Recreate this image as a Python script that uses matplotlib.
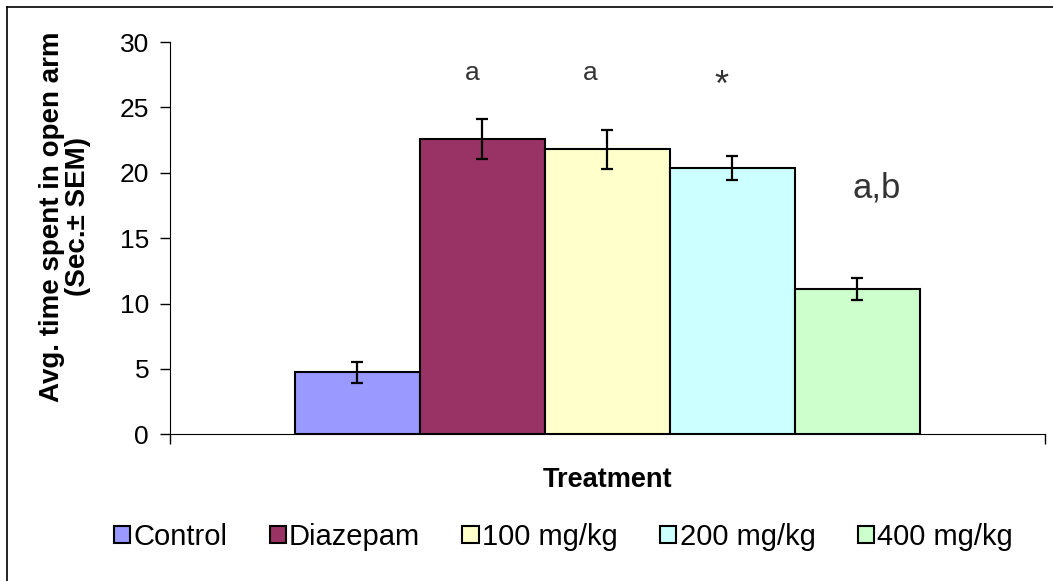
import numpy as np
import matplotlib.pyplot as plt
from matplotlib.patches import Patch
from matplotlib.lines import Line2D

plt.rcParams['font.family'] = ['Liberation Sans', 'DejaVu Sans']

# Daten
groups = ['Control', 'Diazepam', '100 mg/kg', '200 mg/kg', '400 mg/kg']
means = [4.75, 22.6, 21.8, 20.35, 11.1]
sems = [0.8, 1.55, 1.5, 0.92, 0.82]
colors = ['#9999FF', '#993366', '#FFFFCC', '#CCFFFF', '#CCFFCC']
# signifikansmarkeringar (text, x, y)
sig_labels = ['a', 'a', '*', 'a,b']
sig_x = [0.346, 0.480, 0.630, 0.808]
sig_y = [27.6, 27.6, 26.6, 18.8]
sig_size = [19, 19, 26, 25]

fig = plt.figure(figsize=(10.53, 5.81), dpi=100)
ax = fig.add_axes([0.1614, 0.2525, 0.831, 0.6752])

n = len(groups)
w = 1 / (n + 2)
x = (np.arange(n) + 1.5) * w
ax.bar(x, means, width=w, color=colors, edgecolor='black', linewidth=1.5, zorder=2)
ax.errorbar(x, means, yerr=sems, fmt='none', ecolor='black', elinewidth=1.6,
            capsize=4, capthick=1.6, zorder=3)

for t, xx, yy, s in zip(sig_labels, sig_x, sig_y, sig_size):
    ax.text(xx, yy, t, fontsize=s, color='#333333', ha='center', va='center')

ax.set_xlim(0, 1)
ax.set_ylim(0, 30)
ax.set_yticks(np.arange(0, 31, 5))
ax.set_xticks([0, 1])
ax.set_xticklabels([])
ax.tick_params(axis='y', direction='out', length=7, width=1, labelsize=19, pad=8)
ax.tick_params(axis='x', direction='out', length=7, width=1)
ax.spines['top'].set_visible(False)
ax.spines['right'].set_visible(False)

ax.set_xlabel('Treatment', fontsize=19.5, fontweight='bold', labelpad=13)
ax.set_ylabel('Avg. time spent in open arm\n(Sec.± SEM)', fontsize=20,
              fontweight='bold', linespacing=1.0)
ax.yaxis.set_label_coords(-0.09, 0.555)

handles = [Patch(facecolor=c, edgecolor='black', linewidth=1.5) for c in colors]
fig.legend(handles, groups, loc='center', bbox_to_anchor=(0.535, 0.076), ncol=n,
           frameon=False, fontsize=21, handlelength=0.55, handleheight=0.55,
           handletextpad=0.12, columnspacing=1.45)

# ram
fig.add_artist(Line2D([0.0066, 0.0066], [0, 0.988], transform=fig.transFigure, color='black', lw=1.2))
fig.add_artist(Line2D([0.0066, 1], [0.988, 0.988], transform=fig.transFigure, color='black', lw=1.2))

fig.savefig('out.png', dpi=100)
